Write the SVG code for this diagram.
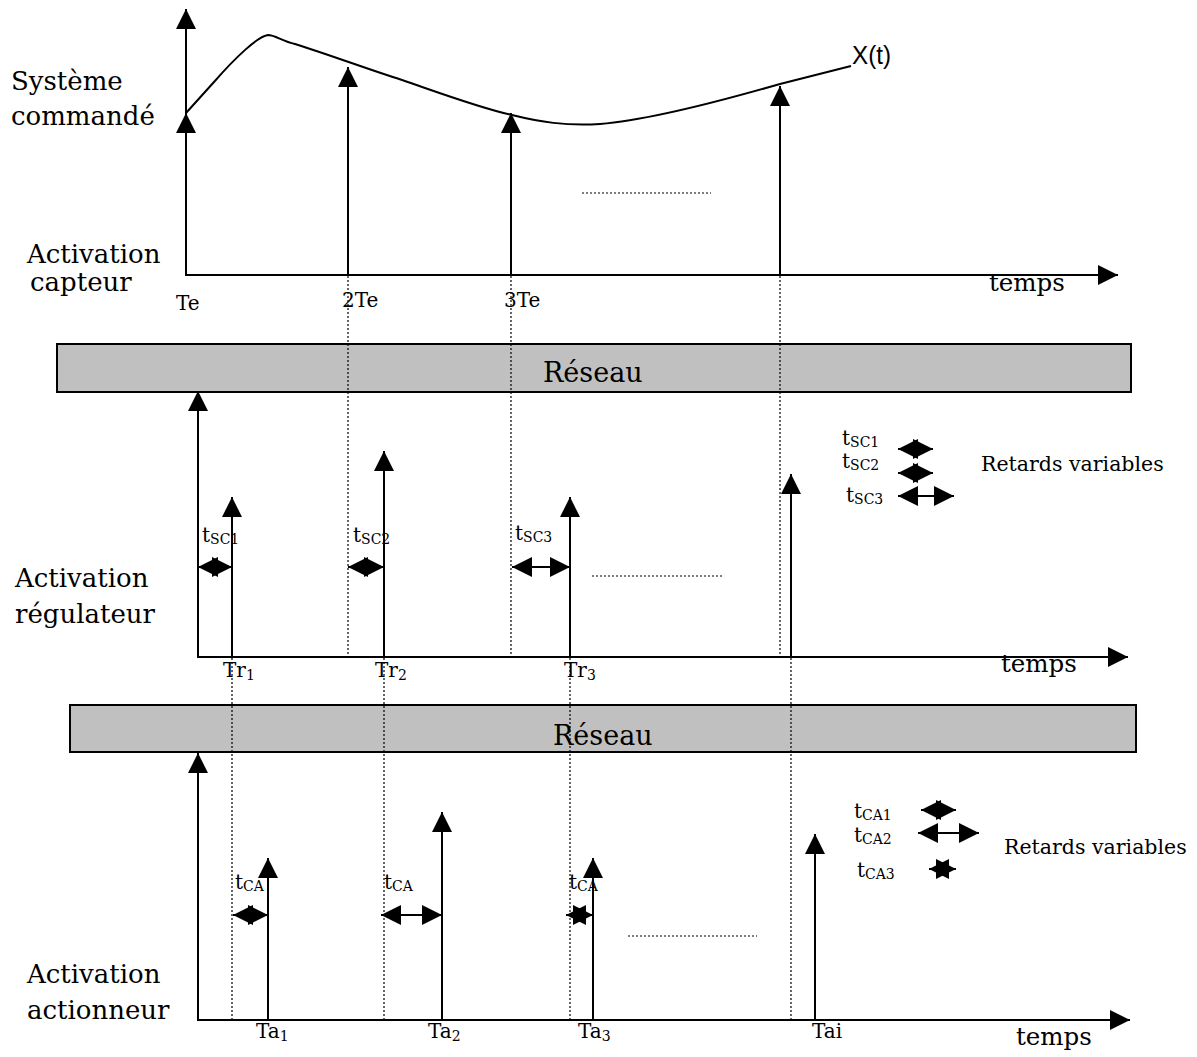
<svg xmlns="http://www.w3.org/2000/svg" width="1197" height="1057" viewBox="0 0 1197 1057">
<defs>
<marker id="ah" viewBox="0 0 20 20" refX="20" refY="10" markerWidth="20" markerHeight="20" markerUnits="userSpaceOnUse" orient="auto-start-reverse"><path d="M0,0 L20,10 L0,20 z" fill="#000"/></marker>
</defs>
<style>
.ax{stroke:#000;stroke-width:2;fill:none}
.arr{stroke:#000;stroke-width:2;fill:none;marker-end:url(#ah)}
.dbl{stroke:#000;stroke-width:2;fill:none;marker-start:url(#ah);marker-end:url(#ah)}
.dot{stroke:#000;stroke-width:1.2;stroke-dasharray:2 2;fill:none}
.band{fill:#c0c0c0;stroke:#000;stroke-width:2}
text{font-family:"DejaVu Serif","Liberation Serif",serif;fill:#000}
.lbl{font-size:26px}
.tm{font-size:24.5px}
.sm{font-size:20px}
.sub{font-size:14px}
.leg{font-size:20.5px}
.net{font-size:27px}
.xt{font-family:"Liberation Sans",Arial,sans-serif;font-size:26px}
</style>

<g id="bands">
  <g id="reseau1"><rect class="band" x="57" y="344" width="1074" height="48"/><text class="net" x="543" y="382">Réseau</text></g>
  <g id="reseau2"><rect class="band" x="70" y="705" width="1066" height="47"/><text class="net" x="553" y="745">Réseau</text></g>
</g>

<g id="connectors">
  <line class="dot" x1="348" y1="276" x2="348" y2="658"/>
  <line class="dot" x1="511" y1="276" x2="511" y2="658"/>
  <line class="dot" x1="780" y1="276" x2="780" y2="658"/>
  <line class="dot" x1="232" y1="658" x2="232" y2="1020"/>
  <line class="dot" x1="384" y1="658" x2="384" y2="1020"/>
  <line class="dot" x1="570" y1="658" x2="570" y2="1020"/>
  <line class="dot" x1="791" y1="658" x2="791" y2="1020"/>
  <line class="dot" x1="582" y1="193" x2="711" y2="193"/>
  <line class="dot" x1="592" y1="576" x2="722" y2="576"/>
  <line class="dot" x1="628" y1="936" x2="757" y2="936"/>

  <line class="arr" x1="186" y1="276" x2="186" y2="9"/>
  <line class="arr" x1="185" y1="275" x2="1118" y2="275"/>
  <line class="arr" x1="186" y1="275" x2="186" y2="113"/>
  <line class="arr" x1="348" y1="275" x2="348" y2="67"/>
  <line class="arr" x1="511" y1="275" x2="511" y2="113"/>
  <line class="arr" x1="780" y1="275" x2="780" y2="86"/>
  <path class="ax" d="M186,113 L214,82 C235,58 258,36 268,35 C275,35 282,41 295,44 C330,55 370,70 402,80 C440,93 480,108 512,115 C540,122 565,126 600,124 C640,121 700,107 780,84 L851,66"/>

  <line class="arr" x1="198" y1="658" x2="198" y2="391"/>
  <line class="arr" x1="197" y1="657" x2="1128" y2="657"/>
  <line class="arr" x1="232" y1="657" x2="232" y2="497"/>
  <line class="arr" x1="384" y1="657" x2="384" y2="451"/>
  <line class="arr" x1="570" y1="657" x2="570" y2="497"/>
  <line class="arr" x1="791" y1="657" x2="791" y2="474"/>
  <line class="dbl" x1="198" y1="567" x2="232" y2="567"/>
  <line class="dbl" x1="348" y1="567" x2="384" y2="567"/>
  <line class="dbl" x1="512" y1="567" x2="570" y2="567"/>
  <line class="dbl" x1="898" y1="449" x2="933" y2="449"/>
  <line class="dbl" x1="898" y1="473" x2="933" y2="473"/>
  <line class="dbl" x1="898" y1="496" x2="954" y2="496"/>

  <line class="arr" x1="198" y1="1021" x2="198" y2="753"/>
  <line class="arr" x1="197" y1="1020" x2="1130" y2="1020"/>
  <line class="arr" x1="268" y1="1020" x2="268" y2="858"/>
  <line class="arr" x1="442" y1="1020" x2="442" y2="812"/>
  <line class="arr" x1="593" y1="1020" x2="593" y2="858"/>
  <line class="arr" x1="815" y1="1020" x2="815" y2="834"/>
  <line class="dbl" x1="233" y1="915" x2="268" y2="915"/>
  <line class="dbl" x1="381" y1="915" x2="442" y2="915"/>
  <line class="dbl" x1="566" y1="915" x2="593" y2="915"/>
  <line class="dbl" x1="921" y1="810" x2="956" y2="810"/>
  <line class="dbl" x1="918" y1="833" x2="979" y2="833"/>
  <line class="dbl" x1="929" y1="869" x2="956" y2="869"/>
</g>

<g id="labels-top">
  <text class="lbl" x="11" y="90" font-size="25">Système</text>
  <text class="lbl" x="11" y="125">commandé</text>
  <text class="lbl" x="27" y="263">Activation</text>
  <text class="lbl" x="30" y="291">capteur</text>
  <text class="xt" x="852" y="64" textLength="39" lengthAdjust="spacingAndGlyphs">X(t)</text>
  <text class="sm" x="176" y="310">Te</text>
  <text class="sm" x="342" y="307">2Te</text>
  <text class="sm" x="504" y="307">3Te</text>
  <text class="tm" x="989" y="291">temps</text>
</g>

<g id="labels-regulateur">
  <text class="lbl" x="15" y="587">Activation</text>
  <text class="lbl" x="15" y="623">régulateur</text>
  <text class="sm" x="202" y="542">t<tspan class="sub" dy="2">SC1</tspan></text>
  <text class="sm" x="353" y="542">t<tspan class="sub" dy="2">SC2</tspan></text>
  <text class="sm" x="515" y="540">t<tspan class="sub" dy="2">SC3</tspan></text>
  <text class="sm" x="223" y="677">Tr<tspan class="sub" dy="3">1</tspan></text>
  <text class="sm" x="375" y="677">Tr<tspan class="sub" dy="3">2</tspan></text>
  <text class="sm" x="564" y="677">Tr<tspan class="sub" dy="3">3</tspan></text>
  <text class="tm" x="1001" y="672">temps</text>
  <text class="sm" x="842" y="445">t<tspan class="sub" dy="2">SC1</tspan></text>
  <text class="sm" x="842" y="468">t<tspan class="sub" dy="2">SC2</tspan></text>
  <text class="sm" x="846" y="502">t<tspan class="sub" dy="2">SC3</tspan></text>
  <text class="leg" x="981" y="471">Retards variables</text>
</g>

<g id="labels-actionneur">
  <text class="lbl" x="27" y="983">Activation</text>
  <text class="lbl" x="27" y="1019">actionneur</text>
  <text class="sm" x="235" y="889">t<tspan class="sub" dy="2">CA</tspan></text>
  <text class="sm" x="384" y="889">t<tspan class="sub" dy="2">CA</tspan></text>
  <text class="sm" x="569" y="889">t<tspan class="sub" dy="2">CA</tspan></text>
  <text class="sm" x="256" y="1038">Ta<tspan class="sub" dy="3">1</tspan></text>
  <text class="sm" x="428" y="1038">Ta<tspan class="sub" dy="3">2</tspan></text>
  <text class="sm" x="578" y="1038">Ta<tspan class="sub" dy="3">3</tspan></text>
  <text class="sm" x="812" y="1038">Tai</text>
  <text class="tm" x="1016" y="1045">temps</text>
  <text class="sm" x="854" y="818">t<tspan class="sub" dy="2">CA1</tspan></text>
  <text class="sm" x="854" y="842">t<tspan class="sub" dy="2">CA2</tspan></text>
  <text class="sm" x="857" y="877">t<tspan class="sub" dy="2">CA3</tspan></text>
  <text class="leg" x="1004" y="854">Retards variables</text>
</g>
</svg>
